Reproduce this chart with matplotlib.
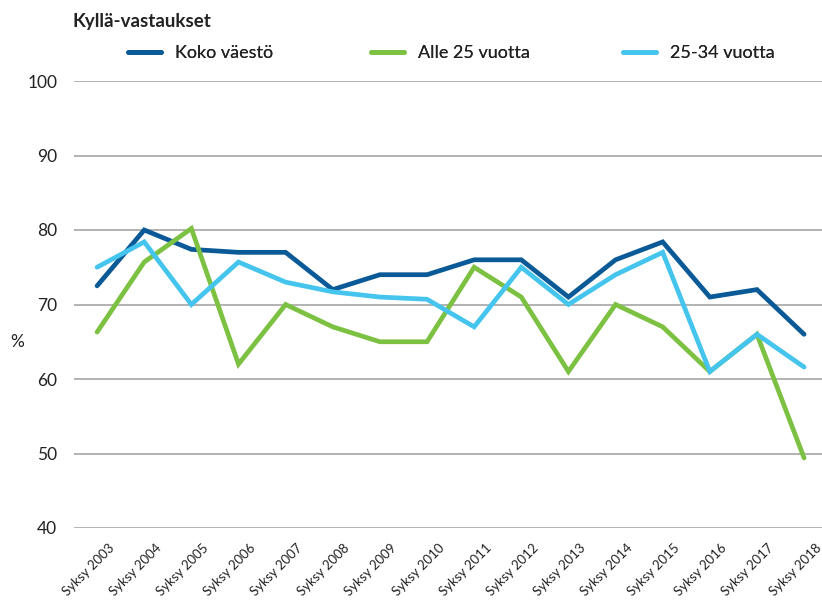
import matplotlib
matplotlib.use('Agg')
import matplotlib.pyplot as plt
from matplotlib.transforms import ScaledTranslation

plt.rcParams['font.family'] = ['Lato', 'DejaVu Sans']

vuodet = ['Syksy 2003', 'Syksy 2004', 'Syksy 2005', 'Syksy 2006', 'Syksy 2007',
          'Syksy 2008', 'Syksy 2009', 'Syksy 2010', 'Syksy 2011', 'Syksy 2012',
          'Syksy 2013', 'Syksy 2014', 'Syksy 2015', 'Syksy 2016', 'Syksy 2017',
          'Syksy 2018']
koko_vaesto = [72.5, 80, 77.4, 77, 77, 72, 74, 74, 76, 76, 71, 76, 78.4, 71, 72, 66]
alle_25 = [66.3, 75.7, 80.2, 62, 70, 67, 65, 65, 75, 71, 61, 70, 67, 61, 66, 49.4]
v25_34 = [75, 78.4, 70, 75.7, 73, 71.7, 71, 70.7, 67, 75, 70, 74, 77, 61, 66, 61.6]

sarjat = [('Koko väestö', koko_vaesto, '#0a5a97'),
          ('Alle 25 vuotta', alle_25, '#7cc142'),
          ('25-34 vuotta', v25_34, '#45c5ee')]

W, H = 822, 604
fig = plt.figure(figsize=(W / 100, H / 100), dpi=100)
ax = fig.add_axes([74 / W, 1 - 528 / H, 1 - 74 / W, (528 - 81) / H])

x = list(range(len(vuodet)))
viivat = []
for nimi, arvot, vari in sarjat:
    l, = ax.plot(x, arvot, color=vari, linewidth=3.4, solid_capstyle='round',
                 solid_joinstyle='miter', label=nimi, zorder=3)
    viivat.append(l)

ax.set_ylim(40, 100)
ax.set_yticks(range(40, 101, 10))
ax.set_xlim(-0.49, 15.38)
ax.yaxis.grid(True, color='#a6a6a6', linewidth=1.2)
ax.set_axisbelow(True)
for s in ax.spines.values():
    s.set_visible(False)
ax.tick_params(axis='y', length=0, pad=12, labelsize=12.5, labelcolor='#222222')
ax.tick_params(axis='x', length=0, pad=13, labelsize=9.5, labelcolor='#222222')
ax.set_xticks(x)
ax.set_xticklabels(vuodet, rotation=45, ha='right', va='center',
                   rotation_mode='anchor')
siirto = ScaledTranslation(0.15, 0, fig.dpi_scale_trans)
for t in ax.get_xticklabels():
    t.set_transform(t.get_transform() + siirto)

fig.text(10 / W, 1 - 342 / H, '%', fontsize=12.5, color='#222222',
         ha='left', va='center')
fig.text(72 / W, 1 - 22 / H, 'Kyllä-vastaukset', fontsize=13.5,
         fontweight='bold', color='#222222', ha='left', va='center')

# selitteet erikseen, jotta sijainnit vastaavat kuvaa
for l, xpos in zip(viivat, [128, 371, 623]):
    leg = fig.legend(handles=[l], loc='center left',
                     bbox_to_anchor=(xpos / W, 1 - 53 / H), frameon=False,
                     fontsize=13, handlelength=1.85, handletextpad=0.75,
                     borderpad=0, borderaxespad=0)
    for t in leg.get_texts():
        t.set_color('#222222')
    fig.add_artist(leg)

fig.savefig('out.png', dpi=100)
